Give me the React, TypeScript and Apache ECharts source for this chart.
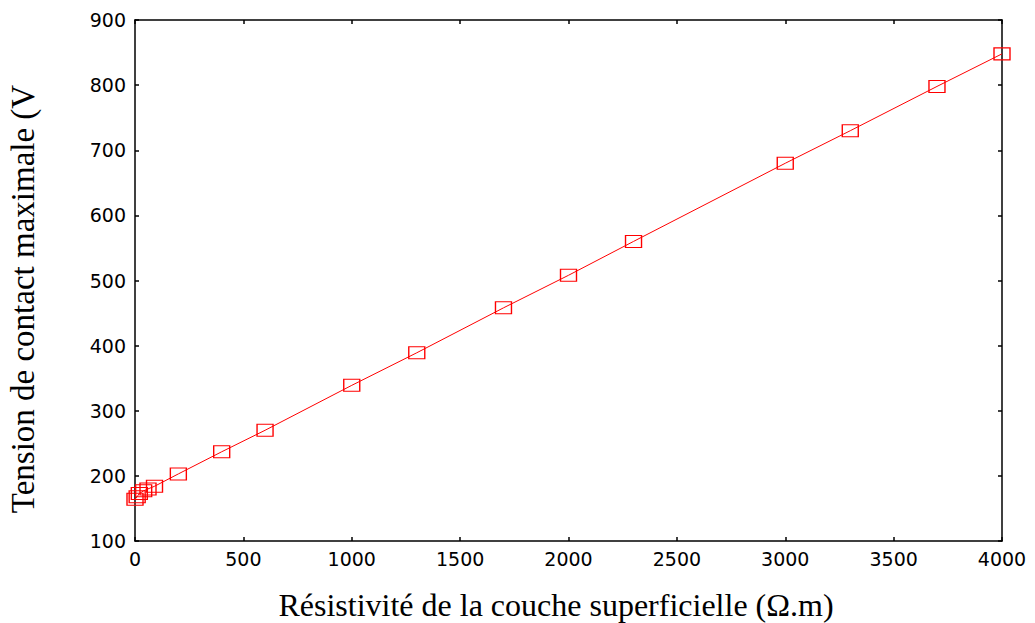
import React, { useEffect, useRef } from "react";
import * as echarts from "echarts";

// Surface-layer resistivity (Ω.m) and the resulting maximum touch voltage (V)
const resistivity = [0, 10, 20, 40, 60, 90, 200, 400, 600, 1000, 1300, 1700, 2000, 2300, 3000, 3300, 3700, 4000];
const touchVoltage = [164, 168, 173, 177, 180, 184, 203, 237, 270, 339, 389, 458, 508, 560, 680, 730, 798, 848];

const xTicks = { min: 0, max: 4000, interval: 500 };
const yTicks = { min: 100, max: 900, interval: 100 };

const xTitle = "Résistivité de la couche superficielle (Ω.m)";
const yTitle = "Tension de contact maximale (V";

export default function App() {
  const ref = useRef<HTMLDivElement>(null);

  useEffect(() => {
    if (!ref.current) return;
    const chart = echarts.init(ref.current, undefined, { renderer: "svg" });

    const labelFont = {
      fontFamily: "DejaVu Sans",
      fontSize: 19,
      color: "#000",
      formatter: (v: number) => String(v),
    };
    const axisLine = { show: true, onZero: false, lineStyle: { color: "#000", width: 1.5 } };
    const tickIn = { show: true, inside: true, length: 4, lineStyle: { color: "#000", width: 1.5 } };

    chart.setOption({
      animation: false,
      backgroundColor: "#fff",
      grid: { left: 135, right: 33, top: 20, bottom: 82, containLabel: false },
      xAxis: [
        {
          type: "value",
          ...xTicks,
          position: "bottom",
          axisLine,
          axisTick: tickIn,
          splitLine: { show: false },
          axisLabel: { ...labelFont, margin: 8 },
        },
        {
          type: "value",
          ...xTicks,
          position: "top",
          axisLine,
          axisTick: tickIn,
          splitLine: { show: false },
          axisLabel: { show: false },
        },
      ],
      yAxis: [
        {
          type: "value",
          ...yTicks,
          position: "left",
          axisLine,
          axisTick: tickIn,
          splitLine: { show: false },
          axisLabel: { ...labelFont, margin: 9 },
        },
        {
          type: "value",
          ...yTicks,
          position: "right",
          axisLine,
          axisTick: tickIn,
          splitLine: { show: false },
          axisLabel: { show: false },
        },
      ],
      graphic: [
        {
          type: "text",
          x: 556,
          y: 589,
          style: {
            text: xTitle,
            fontFamily: "Liberation Serif",
            fontSize: 32,
            fill: "#000",
            align: "center",
            verticalAlign: "top",
          },
        },
        {
          type: "text",
          x: 23,
          y: 299,
          rotation: Math.PI / 2,
          style: {
            text: yTitle,
            fontFamily: "Liberation Serif",
            fontSize: 33,
            fill: "#000",
            align: "center",
            verticalAlign: "middle",
          },
        },
      ],
      series: [
        {
          type: "line",
          data: resistivity.map((r, i) => [r, touchVoltage[i]]),
          symbol: "rect",
          symbolSize: [16, 12],
          showSymbol: true,
          lineStyle: { color: "#ff0000", width: 1 },
          itemStyle: { color: "rgba(0,0,0,0)", borderColor: "#ff0000", borderWidth: 1.2 },
          emphasis: { disabled: true },
        },
      ],
    });

    return () => chart.dispose();
  }, []);

  return <div ref={ref} style={{ width: 1035, height: 623, position: "absolute", left: 0, top: 0 }} />;
}
